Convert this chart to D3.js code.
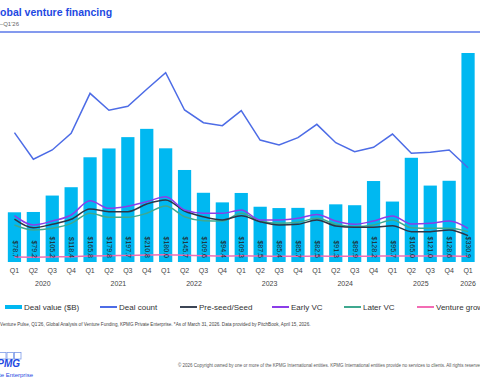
<!DOCTYPE html>
<html>
<head>
<meta charset="utf-8">
<script src="https://cdn.jsdelivr.net/npm/d3@7"></script>
<style>
  body { margin: 0; background: #fff; }
  svg { display: block; font-family: "Liberation Sans", Arial, sans-serif; }
</style>
</head>
<body>
<div id="chart-area"></div>
<script>
// quarters Q1'20 .. Q1'26
var periods = ["Q1 2020","Q2 2020","Q3 2020","Q4 2020","Q1 2021","Q2 2021","Q3 2021","Q4 2021",
               "Q1 2022","Q2 2022","Q3 2022","Q4 2022","Q1 2023","Q2 2023","Q3 2023","Q4 2023",
               "Q1 2024","Q2 2024","Q3 2024","Q4 2024","Q1 2025","Q2 2025","Q3 2025","Q4 2025","Q1 2026"];
var years = ["2020","2021","2022","2023","2024","2025","2026"];

// deal value ($B)
var dealValue = [78.7, 79.2, 105.2, 118.4, 165.8, 179.8, 197.7, 210.8,
                 180.0, 145.7, 109.6, 94.4, 109.3, 87.5, 85.4, 85.7,
                 82.5, 91.3, 89.9, 128.2, 95.7, 165.0, 121.0, 128.6, 330.9];
// deal counts
var dealCount = [9630, 7650, 8340, 9580, 12560, 11300, 11590, 12860,
                 14100, 11320, 10370, 10150, 11270, 9080, 8710, 9260,
                 10250, 8880, 8210, 8540, 9530, 8090, 8170, 8340, 7020];
var preSeed = [3200, 2550, 2810, 3180, 3950, 3750, 3750, 4320,
               4620, 3800, 3370, 3130, 3450, 3000, 2760, 2810,
               3130, 2680, 2580, 2580, 2700, 2260, 2260, 2380, 1960];
var earlyVC = [3450, 2760, 3050, 3500, 4560, 4000, 4150, 4490,
               4860, 3870, 3630, 3630, 3870, 3130, 3130, 3250,
               3540, 3050, 2810, 3050, 3430, 2830, 2880, 3050, 2510];
var laterVC = [2760, 2380, 2510, 2880, 3630, 3330, 3330, 3630,
               4170, 3370, 3080, 3050, 3630, 3050, 2880, 2960,
               3250, 2810, 2630, 2760, 3130, 2550, 2510, 2510, 2260];
var ventureGrowth = [370, 360, 380, 400, 440, 470, 490, 520,
                     540, 500, 470, 450, 460, 440, 430, 420,
                     440, 430, 420, 430, 450, 440, 440, 450, 420];

var width = 480, height = 384;
var baseY = 262;

var svg = d3.select("#chart-area")
    .append("svg")
    .attr("width", width)
    .attr("height", height);

// title block
svg.append("text")
    .attr("x", -11).attr("y", 16)
    .attr("font-size", 10.5).attr("font-weight", "bold")
    .attr("fill", "#1e49e2")
    .text("Global venture financing");
svg.append("text")
    .attr("x", -16).attr("y", 26)
    .attr("font-size", 6).attr("fill", "#666")
    .text("Q1'20\u2013Q1'26");
svg.append("line")
    .attr("x1", 0).attr("x2", width)
    .attr("y1", 32).attr("y2", 32)
    .attr("stroke", "#5b78e8").attr("stroke-width", 1.5);

// Scales
var x = d3.scaleBand()
    .domain(periods)
    .range([5, 477.5])
    .paddingInner(0.3)
    .paddingOuter(0.15);

var yValue = d3.scaleLinear()
    .domain([0, 350])
    .range([baseY, baseY - 350 * 0.6316]);

var yCount = d3.scaleLinear()
    .domain([0, 15000])
    .range([baseY, baseY - 15000 * 0.01343]);

var cx = function(i) { return x(periods[i]) + x.bandwidth() / 2; };

// bars
svg.selectAll(".bar")
    .data(dealValue)
    .enter().append("rect")
    .attr("class", "bar")
    .attr("x", function(d, i) { return x(periods[i]); })
    .attr("y", function(d) { return yValue(d); })
    .attr("width", x.bandwidth())
    .attr("height", function(d) { return baseY - yValue(d); })
    .attr("fill", "#00b8f1");

// stage lines
var stageLine = d3.line()
    .x(function(d, i) { return cx(i); })
    .y(function(d) { return yCount(d); })
    .curve(d3.curveMonotoneX);

var stages = [
    { vals: ventureGrowth, color: "#f36cb4" },
    { vals: laterVC, color: "#3fa88f" },
    { vals: preSeed, color: "#2c3545" },
    { vals: earlyVC, color: "#8b3de8" }
];
stages.forEach(function(s) {
    svg.append("path")
        .attr("d", stageLine(s.vals))
        .attr("fill", "none")
        .attr("stroke", s.color)
        .attr("stroke-width", 1.5);
});

// bar labels (rotated)
svg.selectAll(".vlabel")
    .data(dealValue)
    .enter().append("text")
    .attr("class", "vlabel")
    .attr("transform", function(d, i) { return "translate(" + cx(i) + "," + (baseY - 4) + ") rotate(90)"; })
    .attr("text-anchor", "end")
    .attr("dominant-baseline", "middle")
    .attr("font-size", 7)
    .attr("fill", "#222")
    .text(function(d) { return "$" + d.toFixed(1); });

// deal count line
var countLine = d3.line()
    .x(function(d, i) { return cx(i); })
    .y(function(d) { return yCount(d); });

svg.append("path")
    .attr("d", countLine(dealCount))
    .attr("fill", "none")
    .attr("stroke", "#4d6ce6")
    .attr("stroke-width", 1.5);

// x axis: quarters
var xAxis = svg.append("g")
    .attr("transform", "translate(0," + (baseY + 3) + ")")
    .call(d3.axisBottom(x).tickSize(0).tickFormat(function(d) { return d.split(" ")[0]; }));
xAxis.select(".domain").remove();
xAxis.selectAll("text")
    .attr("font-size", 7)
    .attr("font-family", "Liberation Sans, Arial, sans-serif")
    .attr("fill", "#444");

// year labels
svg.selectAll(".year")
    .data(years)
    .enter().append("text")
    .attr("class", "year")
    .attr("x", function(yr) {
        var idx = [];
        periods.forEach(function(p, i) { if (p.split(" ")[1] === yr) idx.push(cx(i)); });
        return d3.mean(idx);
    })
    .attr("y", 286)
    .attr("text-anchor", "middle")
    .attr("font-size", 7)
    .attr("fill", "#444")
    .text(function(d) { return d; });

// legend
var legendItems = [
    { name: "Deal value ($B)", color: "#00b8f1", w: 4, x: 5 },
    { name: "Deal count", color: "#4d6ce6", w: 2, x: 100 },
    { name: "Pre-seed/Seed", color: "#3c4555", w: 2, x: 180 },
    { name: "Early VC", color: "#8b3de8", w: 2, x: 272 },
    { name: "Later VC", color: "#3fa88f", w: 2, x: 344 },
    { name: "Venture growth", color: "#f36cb4", w: 2, x: 417 }
];
var legend = svg.selectAll(".legend")
    .data(legendItems)
    .enter().append("g")
    .attr("class", "legend")
    .attr("transform", function(d) { return "translate(" + d.x + ",307)"; });
legend.append("line")
    .attr("x1", 0).attr("x2", 17)
    .attr("stroke", function(d) { return d.color; })
    .attr("stroke-width", function(d) { return d.w; });
legend.append("text")
    .attr("x", 19).attr("y", 3)
    .attr("font-size", 8)
    .attr("fill", "#333")
    .text(function(d) { return d.name; });

// source note
svg.append("text")
    .attr("x", -17).attr("y", 326)
    .attr("font-size", 4.6)
    .attr("fill", "#444")
    .text("Source: Venture Pulse, Q1'26, Global Analysis of Venture Funding, KPMG Private Enterprise. *As of March 31, 2026. Data provided by PitchBook, April 15, 2026.");

// KPMG logo
var boxes = [0, 1, 2, 3];
svg.selectAll(".lbox")
    .data(boxes)
    .enter().append("rect")
    .attr("x", function(d) { return -8 + d * 7.5; })
    .attr("y", 352.5)
    .attr("width", 6.5).attr("height", 6.5)
    .attr("fill", "none")
    .attr("stroke", "#7d9be8")
    .attr("stroke-width", 0.8);
svg.append("text")
    .attr("x", 20).attr("y", 367)
    .attr("text-anchor", "end")
    .attr("font-size", 10).attr("font-weight", "bold").attr("font-style", "italic")
    .attr("fill", "#1e49e2")
    .text("KPMG");
svg.append("text")
    .attr("x", 33).attr("y", 377)
    .attr("text-anchor", "end")
    .attr("font-size", 6)
    .attr("fill", "#1e49e2")
    .text("Private Enterprise");

// copyright
svg.append("text")
    .attr("x", 178).attr("y", 367)
    .attr("font-size", 4.5)
    .attr("fill", "#555")
    .text("\u00a9 2026 Copyright owned by one or more of the KPMG International entities. KPMG International entities provide no services to clients. All rights reserved.");
</script>
</body>
</html>
